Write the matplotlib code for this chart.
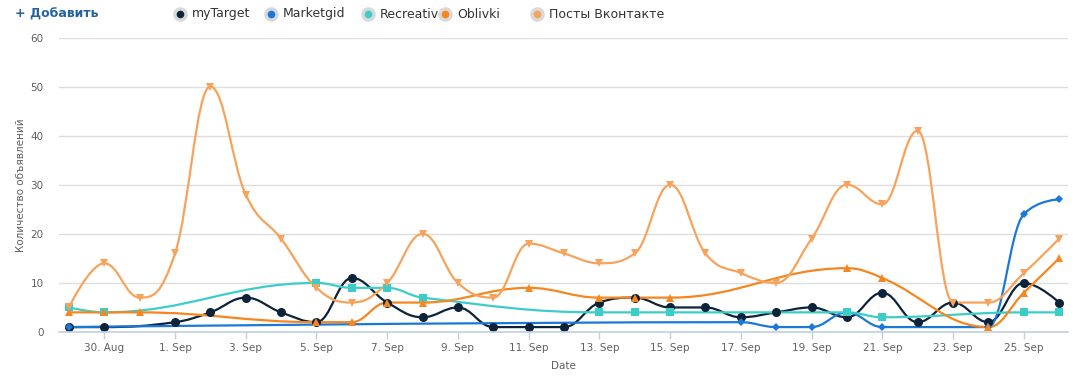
import numpy as np
import pandas as pd
import matplotlib
matplotlib.use("Agg")
import matplotlib.pyplot as plt
import matplotlib.dates as mdates
from matplotlib.path import Path
from matplotlib.patches import PathPatch

# ---- data ----
year = "2016-"

mytarget_days = ["08-29", "08-30", "09-01", "09-02", "09-03", "09-04", "09-05", "09-06",
                 "09-07", "09-08", "09-09", "09-10", "09-11", "09-12", "09-13", "09-14",
                 "09-15", "09-16", "09-17", "09-18", "09-19", "09-20", "09-21", "09-22",
                 "09-23", "09-24", "09-25", "09-26"]
mytarget_vals = [1, 1, 2, 4, 7, 4, 2, 11, 6, 3, 5, 1, 1, 1, 6, 7, 5, 5, 3, 4, 5, 3, 8, 2, 6, 2, 10, 6]

marketgid_days = ["08-29", "09-17", "09-18", "09-19", "09-20", "09-21", "09-24", "09-25", "09-26"]
marketgid_vals = [1, 2, 1, 1, 4, 1, 1, 24, 27]

recreativ_days = ["08-29", "08-30", "09-05", "09-06", "09-07", "09-08", "09-13", "09-14",
                  "09-15", "09-20", "09-21", "09-25", "09-26"]
recreativ_vals = [5, 4, 10, 9, 9, 7, 4, 4, 4, 4, 3, 4, 4]

oblivki_days = ["08-29", "08-30", "08-31", "09-05", "09-06", "09-07", "09-08", "09-11",
                "09-13", "09-14", "09-15", "09-20", "09-21", "09-24", "09-25", "09-26"]
oblivki_vals = [4, 4, 4, 2, 2, 6, 6, 9, 7, 7, 7, 13, 11, 1, 8, 15]

vk_days = ["08-29", "08-30", "08-31", "09-01", "09-02", "09-03", "09-04", "09-05", "09-06",
           "09-07", "09-08", "09-09", "09-10", "09-11", "09-12", "09-13", "09-14", "09-15",
           "09-16", "09-17", "09-18", "09-19", "09-20", "09-21", "09-22", "09-23", "09-24",
           "09-25", "09-26"]
vk_vals = [5, 14, 7, 16, 50, 28, 19, 9, 6, 10, 20, 10, 7, 18, 16, 14, 16, 30, 16, 12, 10,
           19, 30, 26, 41, 6, 6, 12, 19]

names = ["myTarget", "Marketgid", "Recreativ", "Oblivki", "Посты Вконтакте"]
colors = ["#0d233a", "#1a78d8", "#3ccdc9", "#f7861f", "#f7a35c"]
markers = ["o", "D", "s", "^", "v"]
msizes = [6.5, 3.8, 6, 6, 6]
series = [(mytarget_days, mytarget_vals), (marketgid_days, marketgid_vals),
          (recreativ_days, recreativ_vals), (oblivki_days, oblivki_vals), (vk_days, vk_vals)]


def hc_spline(xs, ys):
    # highcharts-like spline: cubic bezier with smoothing 1.5
    n = len(xs)
    left = [None] * n
    right = [None] * n
    for i in range(1, n - 1):
        lx, ly = xs[i - 1], ys[i - 1]
        px, py = xs[i], ys[i]
        nx, ny = xs[i + 1], ys[i + 1]
        lcx = (1.5 * px + lx) / 2.5
        lcy = (1.5 * py + ly) / 2.5
        rcx = (1.5 * px + nx) / 2.5
        rcy = (1.5 * py + ny) / 2.5
        if rcx != lcx:
            corr = (rcy - lcy) * (rcx - px) / (rcx - lcx) + py - rcy
            lcy += corr
            rcy += corr
        if lcy > ly and lcy > py:
            lcy = max(ly, py)
            rcy = 2 * py - lcy
        elif lcy < ly and lcy < py:
            lcy = min(ly, py)
            rcy = 2 * py - lcy
        if rcy > ny and rcy > py:
            rcy = max(ny, py)
            lcy = 2 * py - rcy
        elif rcy < ny and rcy < py:
            rcy = min(ny, py)
            lcy = 2 * py - rcy
        left[i] = (lcx, lcy)
        right[i] = (rcx, rcy)
    verts = [(xs[0], ys[0])]
    codes = [Path.MOVETO]
    for i in range(1, n):
        c1 = right[i - 1] if right[i - 1] is not None else (xs[i - 1], ys[i - 1])
        c2 = left[i] if left[i] is not None else (xs[i], ys[i])
        verts += [c1, c2, (xs[i], ys[i])]
        codes += [Path.CURVE4] * 3
    return Path(verts, codes)


W, H = 1082, 377
fig = plt.figure(figsize=(W / 100, H / 100), dpi=100)
ax = fig.add_axes([59 / W, 1 - 332 / H, (1068 - 59) / W, (332 - 37.5) / H])

for (days, vals), name, c, m, ms in zip(series, names, colors, markers, msizes):
    x = mdates.date2num(pd.to_datetime([year + d for d in days]))
    y = np.array(vals, dtype=float)
    ax.add_patch(PathPatch(hc_spline(list(x), list(y)), fill=False, edgecolor=c,
                           linewidth=1.6, capstyle="round", joinstyle="round"))
    ax.plot(x, y, linestyle="none", marker=m, color=c, markersize=ms, markeredgewidth=0)

x0 = mdates.date2num(pd.Timestamp(year + "08-29"))
x1 = mdates.date2num(pd.Timestamp(year + "09-26"))
ax.set_xlim(x0 - 0.28, x1 + 0.25)
ax.set_ylim(0, 60)
ax.set_yticks(range(0, 61, 10))
ax.grid(axis="y", color="#dedede", linewidth=1)
ax.set_axisbelow(True)

ticks = mdates.date2num(pd.date_range(year + "08-30", year + "09-25", freq="2D"))
ax.set_xticks(ticks)
ax.xaxis.set_major_formatter(mdates.DateFormatter("%-d. %b"))

for s in ["top", "right", "left"]:
    ax.spines[s].set_visible(False)
ax.spines["bottom"].set_color("#c0d0e0")
ax.spines["bottom"].set_linewidth(1.2)
ax.tick_params(axis="x", length=5, color="#c0d0e0", width=1, labelsize=7.5,
               labelcolor="#606060", pad=3)
ax.tick_params(axis="y", length=0, labelsize=7.5, labelcolor="#606060", pad=11)

ax.set_xlabel("Date", fontsize=7.5, color="#606060", labelpad=6)
ax.set_ylabel("Количество объявлений", fontsize=7.5, color="#606060", labelpad=3)

# legend row at the top, drawn in pixel coords
lg = fig.add_axes([0, 0, 1, 1], zorder=5)
lg.set_xlim(0, W)
lg.set_ylim(H, 0)
lg.axis("off")
lg.text(15, 14, "+ Добавить", fontsize=9, fontweight="bold", color="#2463a0",
        va="center", ha="left")
leg_x = [180, 271, 368, 445, 537]
for lx, name, c in zip(leg_x, names, colors):
    lg.plot(lx, 14, marker="o", markersize=10.5, color="#d9d9d9", markeredgewidth=0)
    lg.plot(lx, 14, marker="o", markersize=5.5, color=c, markeredgewidth=0)
    lg.text(lx + 12, 14, name, fontsize=9, color="#333333", va="center", ha="left")

fig.savefig("out.png", dpi=100)
